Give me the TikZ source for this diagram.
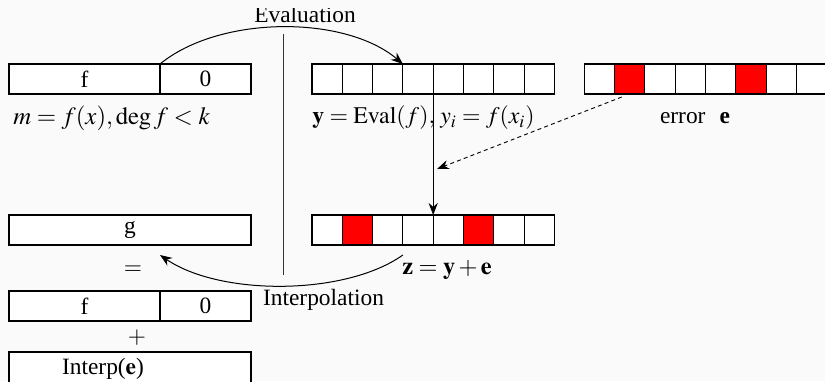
\documentclass[tikz,border=0pt]{standalone}
\usepackage{mathptmx}
\usepackage{fontspec}
\setmainfont{Liberation Serif}
\usetikzlibrary{arrows.meta}
\definecolor{bgc}{RGB}{250,250,250}
\begin{document}
\begin{tikzpicture}[x=0.5pt,y=-0.5pt,
 cell/.style={draw, fill=white, minimum width=15.15pt, minimum height=15pt, inner sep=0pt, outer sep=0pt, line width=0.55pt},
 redcell/.style={cell, fill=red},
 bar/.style={draw, fill=white, inner sep=0pt, outer sep=0pt, minimum height=15pt, line width=0.55pt, font=\fontsize{11.7}{14}\selectfont},
 lbl/.style={inner sep=0pt, font=\fontsize{11.7}{14}\selectfont},
 arr/.style={-{Stealth[length=6pt,width=4.6pt]}, line width=0.5pt},
 sep/.style={line width=0.5pt, black!80}
]
\clip (0,0) rectangle (825,381);
\fill[bgc] (0,0) rectangle (825,381);

% left column
\node[bar, minimum width=75.5pt, anchor=north west] (fa) at (9,64) {f};
\node[bar, minimum width=45.5pt, anchor=north west] (fb) at (fa.north east) {0};
\node[lbl, anchor=west, font=\fontsize{12.4}{14}\selectfont] (mlbl) at (13,118) {$m=f(x),\deg f<k$};

\node[bar, minimum width=121pt, anchor=north west] (g) at (9,215) {g};
\node[lbl] (eq) at (133,270) {$=$};
\node[bar, minimum width=75.5pt, anchor=north west] (fa2) at (9,291) {f};
\node[bar, minimum width=45.5pt, anchor=north west] (fb2) at (fa2.north east) {0};
\node[lbl] (plus) at (137,338) {$+$};
\node[bar, minimum width=121pt, minimum height=25pt, anchor=north west] (ib) at (9,352) {};
\node[lbl, anchor=base] (il) at (103,374) {Interp($\mathbf{e}$)};

% arrays
\foreach \i/\s in {1/cell,2/cell,3/cell,4/cell,5/cell,6/cell,7/cell,8/cell}
  \node[\s, anchor=north west] (y\i) at ({312+(\i-1)*30.3},64) {};
\foreach \i/\s in {1/cell,2/redcell,3/cell,4/cell,5/cell,6/redcell,7/cell,8/cell}
  \node[\s, anchor=north west] (e\i) at ({584.3+(\i-1)*30.3},64) {};
\foreach \i/\s in {1/cell,2/redcell,3/cell,4/cell,5/cell,6/redcell,7/cell,8/cell}
  \node[\s, anchor=north west] (z\i) at ({312+(\i-1)*30.3},215) {};

% separator
\coordinate (s1) at (283,34);
\coordinate (s2) at (283,275);
\draw[sep] (s1) -- (s2);

% labels
\node[lbl, anchor=west, font=\fontsize{11.9}{14}\selectfont] (ylbl) at (312,118) {$\mathbf{y}=\mathrm{Eval}(f),\,y_i=f(x_i)$};
\node[lbl] (elbl) at (695,118) {error\hspace{0.6em}\textbf{e}};
\node[lbl, anchor=west, font=\fontsize{12.2}{14}\selectfont] (zlbl) at (402,270) {$\mathbf{z}=\mathbf{y}+\mathbf{e}$};
\node[lbl, anchor=base] (intl) at (323.5,305) {Interpolation};
\begin{scope}
\clip (0,8.5) rectangle (825,60);
\node[lbl, anchor=base] (evl) at (305,22.7) {Evaluation};
\end{scope}

% connectors
\draw[arr] (fa.north east) .. controls (220,15) and (345,15) .. (y4.north west);
\coordinate (ist) at ([yshift=-10*0.5pt]z4.south west);
\coordinate (ien) at ([yshift=-10*0.5pt]fa.north east |- g.south);
\draw[arr] (ist) .. controls (345,296) and (220,296) .. (ien);
\draw[arr, line width=0.45pt] (y5.south west) -- (z5.north west);
\coordinate (dst) at ([xshift=-4pt,yshift=-1.5pt]e2.south);
\coordinate (den) at (437,169);
\draw[arr, line width=0.45pt, dash pattern=on 2pt off 1.6pt] (dst) -- (den);
\end{tikzpicture}
\end{document}
